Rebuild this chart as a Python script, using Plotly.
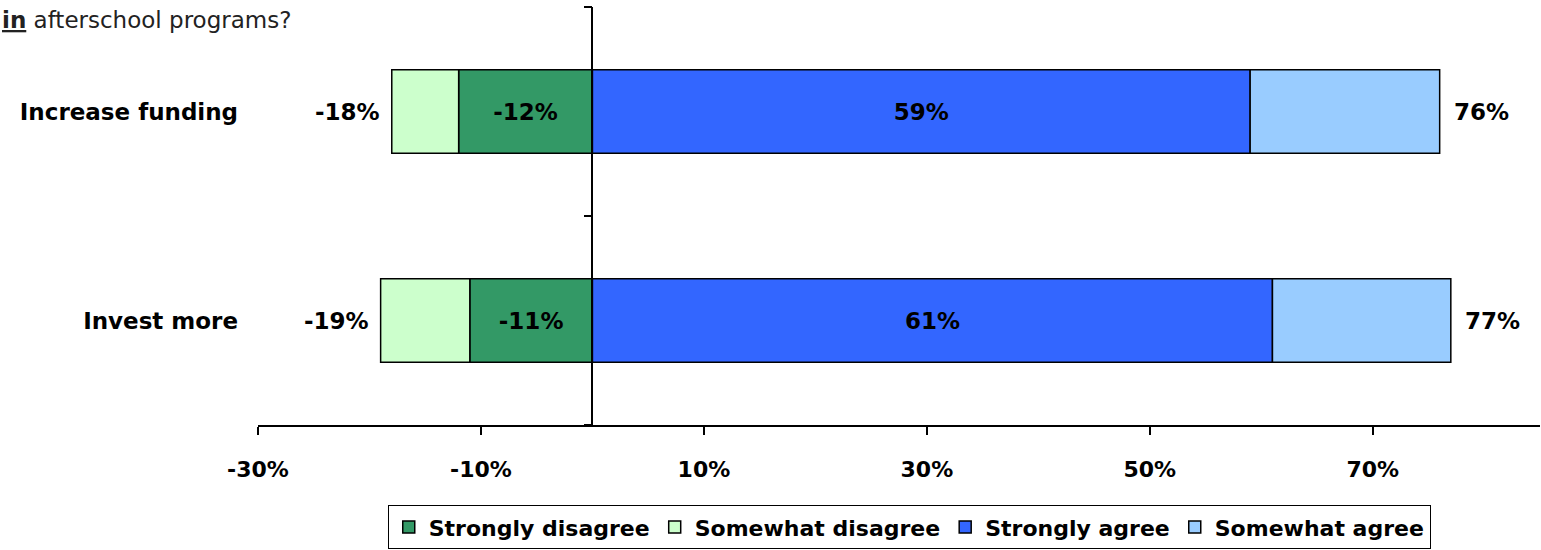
import plotly.graph_objects as go

# Survey responses per statement (percent)
categories = ["Increase funding", "Invest more"]
strongly_disagree = [-12, -11]
somewhat_disagree = [-6, -8]
strongly_agree = [59, 61]
somewhat_agree = [17, 16]
total_disagree = [-18, -19]
total_agree = [76, 77]

x_ticks = [-30, -10, 10, 30, 50, 70]
x_tick_labels = ["-30%", "-10%", "10%", "30%", "50%", "70%"]

FONT = "DejaVu Sans"
INK = "#000000"
BOLD = dict(family=FONT, size=22, color=INK, weight="bold")
LABEL = dict(family=FONT, size=23, color=INK, weight="bold")

series = [
    ("Strongly disagree", strongly_disagree, "#339966", True),
    ("Somewhat disagree", somewhat_disagree, "#CCFFCC", False),
    ("Strongly agree", strongly_agree, "#3366FF", True),
    ("Somewhat agree", somewhat_agree, "#99CCFF", False),
]

fig = go.Figure()
for name, vals, color, inner_label in series:
    fig.add_trace(go.Bar(
        name=name,
        y=categories,
        x=vals,
        orientation="h",
        width=0.4,
        marker=dict(color=color, line=dict(color=INK, width=1.5)),
        text=[f"{v}%" for v in vals] if inner_label else None,
        textposition="inside" if inner_label else "none",
        insidetextanchor="middle",
        textfont=LABEL,
        hoverinfo="skip",
    ))

# Net totals beside each bar
annotations = []
for cat, neg, pos in zip(categories, total_disagree, total_agree):
    annotations.append(dict(
        x=neg, y=cat, xref="x", yref="y", text=f"{neg}%", showarrow=False,
        xanchor="right", xshift=-10, font=LABEL,
    ))
    annotations.append(dict(
        x=pos, y=cat, xref="x", yref="y", text=f"{pos}%", showarrow=False,
        xanchor="left", xshift=12, font=LABEL,
    ))

# Question text at the top-left
annotations.append(dict(
    x=-0.2012, y=1, xref="paper", yref="paper", xanchor="left", yanchor="bottom",
    yshift=-28, showarrow=False,
    text="<b><u>in</u></b> afterschool programs?",
    font=dict(family=FONT, size=23, color="#222222"),
))

x_min, x_max = -30, 85

fig.update_layout(
    width=1541, height=550,
    margin=dict(l=258, r=1, t=7, b=122),
    paper_bgcolor="white", plot_bgcolor="white",
    barmode="relative",
    font=dict(family=FONT, size=22, color=INK),
    annotations=annotations,
    legend=dict(
        orientation="h",
        x=0.508, xanchor="center",
        y=-0.192, yanchor="top",
        bordercolor=INK, borderwidth=1,
        font=BOLD,
        traceorder="normal",
        itemwidth=30,
    ),
    xaxis=dict(
        range=[x_min, x_max],
        tickvals=x_ticks, ticktext=x_tick_labels,
        ticks="outside", ticklen=8, tickcolor=INK, tickwidth=1.5,
        ticklabelstandoff=16,
        showline=True, linecolor=INK, linewidth=1.5,
        showgrid=False, zeroline=False,
        tickfont=BOLD,
        fixedrange=True,
    ),
    yaxis=dict(
        categoryorder="array", categoryarray=categories[::-1],
        anchor="free", position=(0 - x_min) / (x_max - x_min),
        showline=True, linecolor=INK, linewidth=1.5,
        ticks="outside", tickson="boundaries", ticklen=8, tickcolor=INK, tickwidth=1.5,
        ticklabelstandoff=349,
        showgrid=False, zeroline=False,
        tickfont=LABEL,
        fixedrange=True,
    ),
)

fig.write_html("out.html")
